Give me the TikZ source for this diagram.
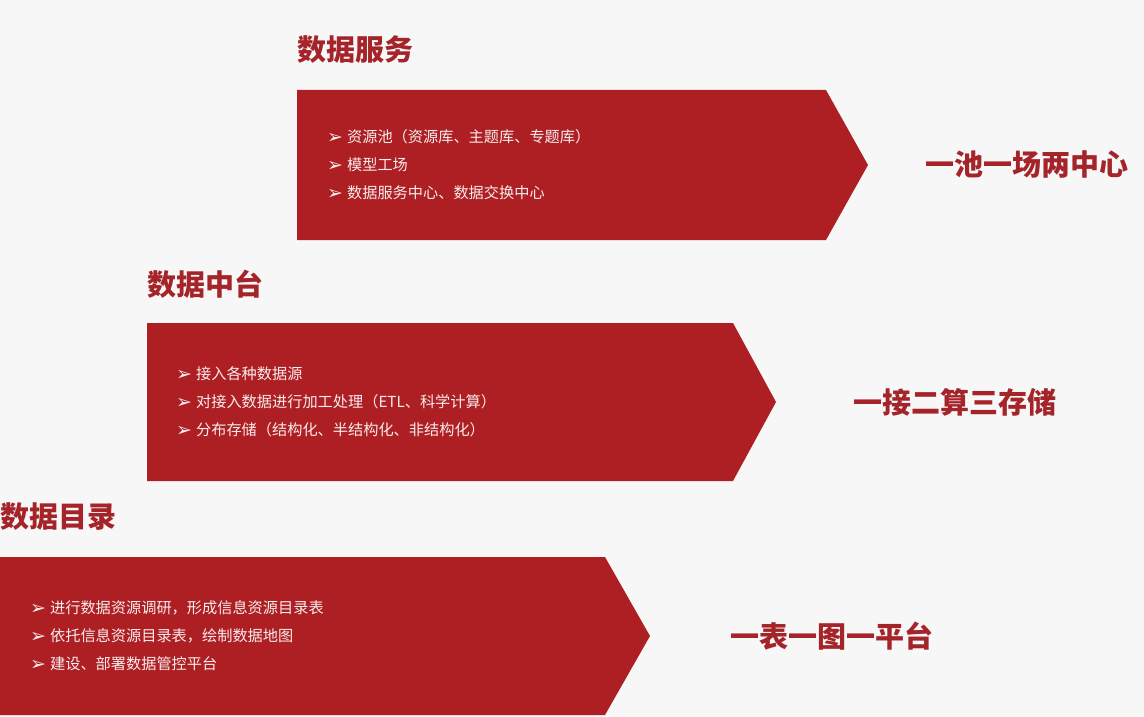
\documentclass[tikz,border=0pt]{standalone}
\usepackage{fontspec}
\newfontfamily\cjk{Noto Sans CJK SC}
\newfontfamily\sym{DejaVu Sans}
\definecolor{boxred}{HTML}{AE1F24}
\definecolor{headred}{HTML}{A5242A}
\definecolor{bg}{HTML}{F7F7F7}
\definecolor{txt}{HTML}{F8ECEC}
\begin{document}
\begin{tikzpicture}[x=1pt,y=-1pt,
  heading/.style={anchor=west,inner sep=0pt,text=headred,font=\cjk\bfseries\fontsize{29}{31}\selectfont},
  slogan/.style={anchor=west,inner sep=0pt,text=headred,font=\cjk\bfseries\fontsize{29}{31}\selectfont},
  item/.style={anchor=west,inner sep=0pt,text=txt,font=\cjk\fontsize{15.2}{17}\selectfont},
  arrowbox/.style={fill=boxred,draw=none}]
\useasboundingbox (0,0) rectangle (1144,717);
\fill[bg] (0,0) rectangle (1144,717);
\newcommand{\bl}{\raisebox{-0.5pt}{\sym\fontsize{19}{20}\selectfont ➢}\hspace{4pt}}
% box 1
\fill[arrowbox] (297,90) -- (826,90) -- (868,165) -- (826,240) -- (297,240) -- cycle;
\node[heading] (h1) at (297,50) {数据服务};
\node[item] (a1) at (327,137) {\bl 资源池（资源库、主题库、专题库）};
\node[item] (a2) at (327,165) {\bl 模型工场};
\node[item] (a3) at (327,193) {\bl 数据服务中心、数据交换中心};
\node[slogan] (s1) at (925,165) {一池一场两中心};
% box 2
\fill[arrowbox] (147,323) -- (733,323) -- (776,402) -- (733,481) -- (147,481) -- cycle;
\node[heading] (h2) at (147,284) {数据中台};
\node[item] (b1) at (176,374) {\bl 接入各种数据源};
\node[item] (b2) at (176,402) {\bl 对接入数据进行加工处理（ETL、科学计算）};
\node[item] (b3) at (176,430) {\bl 分布存储（结构化、半结构化、非结构化）};
\node[slogan] (s2) at (853,402) {一接二算三存储};
% box 3
\fill[arrowbox] (0,557) -- (605,557) -- (650,636) -- (605,715) -- (0,715) -- cycle;
\node[heading] (h3) at (0,517) {数据目录};
\node[item] (c1) at (30,608) {\bl 进行数据资源调研，形成信息资源目录表};
\node[item] (c2) at (30,636) {\bl 依托信息资源目录表，绘制数据地图};
\node[item] (c3) at (30,664) {\bl 建设、部署数据管控平台};
\node[slogan] (s3) at (730,636) {一表一图一平台};
\end{tikzpicture}
\end{document}
